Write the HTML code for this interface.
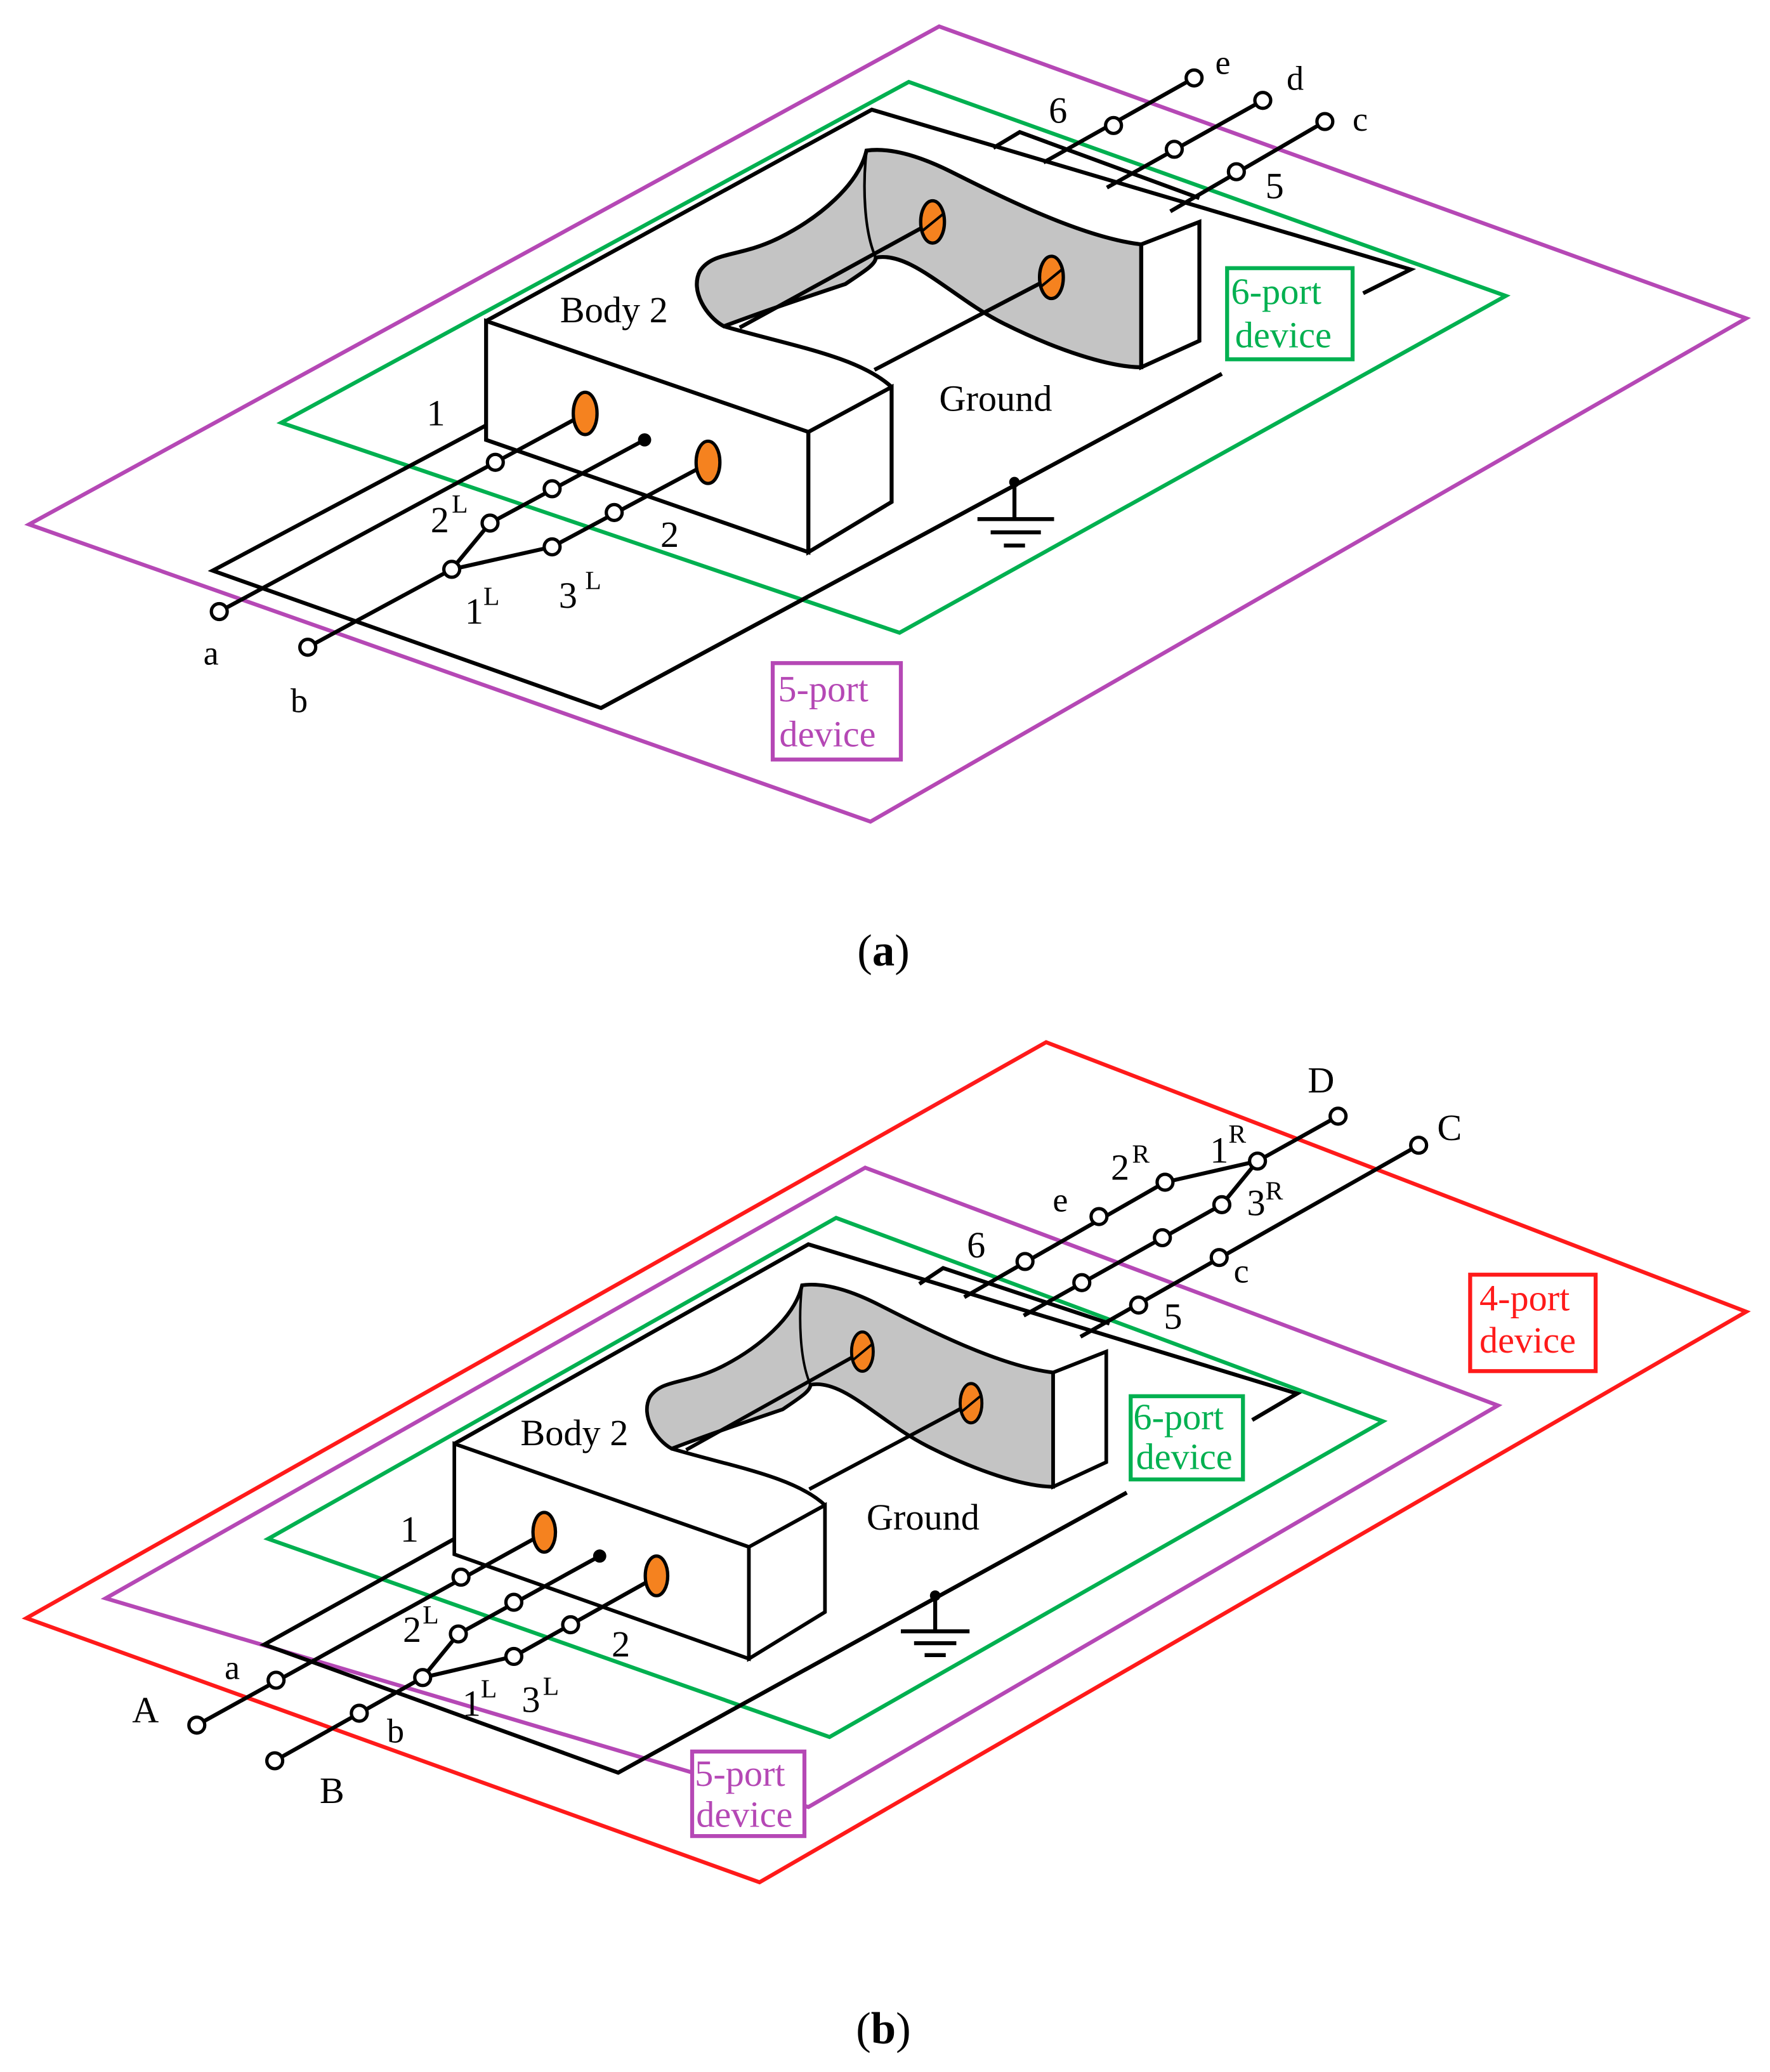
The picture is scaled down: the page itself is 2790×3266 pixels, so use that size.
<!DOCTYPE html>
<html><head><meta charset="utf-8"><style>html,body{margin:0;padding:0;background:#fff}svg{display:block}</style></head>
<body>
<svg xmlns="http://www.w3.org/2000/svg" width="2790" height="3266" viewBox="0 0 1340 1568.6">
<defs>
<g id="body">
  <path d="M368,243 L527,220 L548,247 C600,262 650,270 675,293 L612,327 Z" fill="#fff" stroke="none"/>
  <path d="M548,247 C600,262 650,270 675,293" fill="none" stroke="#000" stroke-width="3"/>
  <path d="M656,114 C650,140 620,165 590,180 C560,195 540,190 530,205 C522,220 535,240 548,247 C580,235 610,225 640,215 C655,205 663,200 663,195 C690,190 720,225 760,245 C800,265 840,278 864,278 L864,185 C820,180 760,150 720,130 C690,115 670,112 656,114 Z" fill="#c4c4c4" stroke="#000" stroke-width="3"/>
  <path d="M656,114 C653,140 654,175 663,195" fill="none" stroke="#000" stroke-width="2"/>
  <path d="M864,185 L908,168 L908,258 L864,278 Z" fill="#fff" stroke="#000" stroke-width="3"/>
  <path d="M368,243 L612,327 L612,418 L368,333 Z" fill="#fff" stroke="#000" stroke-width="3"/>
  <path d="M612,327 L675,293 L675,380 L612,418 Z" fill="#fff" stroke="#000" stroke-width="3"/>
  <line x1="560" y1="248" x2="706" y2="168" stroke="#000" stroke-width="3"/>
  <line x1="662" y1="280" x2="796" y2="210" stroke="#000" stroke-width="3"/>
  <ellipse cx="706" cy="168" rx="9" ry="16" fill="#f5821f" stroke="#000" stroke-width="2.5"/>
  <ellipse cx="796" cy="210" rx="9" ry="16" fill="#f5821f" stroke="#000" stroke-width="2.5"/>
  <line x1="698" y1="175" x2="714" y2="162" stroke="#000" stroke-width="2"/>
  <line x1="788" y1="217" x2="804" y2="204" stroke="#000" stroke-width="2"/>
</g>
</defs>
<g font-family="Liberation Serif, serif" font-size="28">
<!-- Panel a -->
<polygon points="22,397 711,20 1322,241 659,622" fill="none" stroke="#b548b5" stroke-width="3"/>
<polygon points="213,320 688,62 1140,224 681,479" fill="none" stroke="#00b050" stroke-width="3"/>
<g fill="none" stroke="#000" stroke-width="3">
<polyline points="368,322 161,432 455,536 925,283"/>
<polyline points="368,243 660,83 1068,204 1032,222"/>
<polyline points="752,112 772,100 908,150"/>
<line x1="904" y1="59" x2="790" y2="123"/>
<line x1="956" y1="76" x2="838" y2="142"/>
<line x1="1003" y1="92" x2="886" y2="160"/>
</g>
<use href="#body"/>
<g stroke="#000" stroke-width="3" fill="none">
<line x1="166" y1="463" x2="436" y2="317"/>
<line x1="233" y1="490" x2="342" y2="431"/>
<line x1="342" y1="431" x2="371" y2="396"/>
<line x1="342" y1="431" x2="418" y2="414"/>
<line x1="371" y1="396" x2="488" y2="333"/>
<line x1="418" y1="414" x2="530" y2="354"/>
<line x1="455" y1="536" x2="925" y2="283"/>
<line x1="768" y1="365" x2="768" y2="393"/>
<line x1="740" y1="393" x2="798" y2="393"/>
<line x1="750" y1="403" x2="788" y2="403"/>
<line x1="760" y1="413" x2="776" y2="413"/>
</g>
<ellipse cx="443" cy="313" rx="9" ry="16" fill="#f5821f" stroke="#000" stroke-width="2.5"/>
<ellipse cx="536" cy="350" rx="9" ry="16" fill="#f5821f" stroke="#000" stroke-width="2.5"/>
<circle cx="488" cy="333" r="5" fill="#000"/>
<circle cx="768" cy="365" r="4" fill="#000"/>
<g fill="#fff" stroke="#000" stroke-width="2.5">
<circle cx="166" cy="463" r="6"/><circle cx="233" cy="490" r="6"/>
<circle cx="375" cy="350" r="6"/><circle cx="418" cy="370" r="6"/><circle cx="465" cy="388" r="6"/>
<circle cx="371" cy="396" r="6"/><circle cx="342" cy="431" r="6"/><circle cx="418" cy="414" r="6"/>
<circle cx="904" cy="59" r="6"/><circle cx="956" cy="76" r="6"/><circle cx="1003" cy="92" r="6"/>
<circle cx="843" cy="95" r="6"/><circle cx="889" cy="113" r="6"/><circle cx="936" cy="130" r="6"/>
</g>
<text x="794" y="93">6</text><text x="920" y="56" font-size="26">e</text><text x="974" y="68" font-size="26">d</text>
<text x="1024" y="99" font-size="26">c</text><text x="958" y="150">5</text>
<text x="323" y="322">1</text><text x="500" y="414">2</text>
<text x="326" y="403">2</text><text x="342" y="388" font-size="20">L</text>
<text x="352" y="472">1</text><text x="366" y="458" font-size="20">L</text>
<text x="423" y="460">3</text><text x="443" y="446" font-size="20">L</text>
<text x="154" y="503" font-size="26">a</text><text x="220" y="539" font-size="26">b</text>
<text x="424" y="244">Body 2</text><text x="711" y="311">Ground</text>
<rect x="929" y="203" width="95" height="69" fill="#fff" stroke="#00b050" stroke-width="3"/>
<text x="932" y="230" fill="#00b050">6-port</text><text x="935" y="263" fill="#00b050">device</text>
<rect x="585" y="502" width="97" height="73" fill="#fff" stroke="#b548b5" stroke-width="3"/>
<text x="589" y="531" fill="#b548b5">5-port</text><text x="590" y="565" fill="#b548b5">device</text>
<text x="649" y="731" font-size="34">(<tspan font-weight="bold">a</tspan>)</text>

<!-- Panel b -->
<polygon points="20,1225 792,789 1322,993 575,1425" fill="none" stroke="#ff1a1a" stroke-width="3"/>
<polygon points="80,1210 655,884 1134,1064 612,1368" fill="none" stroke="#b548b5" stroke-width="3"/>
<polygon points="203,1165 633,922 1047,1076 628,1315" fill="none" stroke="#00b050" stroke-width="3"/>
<g fill="none" stroke="#000" stroke-width="3">
<polyline points="344,1165 200,1245 468,1342 853,1130"/>
<polyline points="344,1093 612,942 982,1055 948,1075"/>
<polyline points="696,972 714,960 840,1002"/>
<line x1="1013" y1="845" x2="952" y2="879"/>
<line x1="952" y1="879" x2="882" y2="895"/>
<line x1="952" y1="879" x2="925" y2="912"/>
<line x1="882" y1="895" x2="730" y2="982"/>
<line x1="925" y1="912" x2="775" y2="996"/>
<line x1="1074" y1="867" x2="818" y2="1012"/>
</g>
<g transform="matrix(0.914,0,0,0.93,7.6,867)"><use href="#body"/></g>
<g stroke="#000" stroke-width="3" fill="none">
<line x1="149" y1="1306" x2="406" y2="1164"/>
<line x1="208" y1="1333" x2="320" y2="1270"/>
<line x1="320" y1="1270" x2="347" y2="1237"/>
<line x1="320" y1="1270" x2="389" y2="1254"/>
<line x1="347" y1="1237" x2="454" y2="1178"/>
<line x1="389" y1="1254" x2="491" y2="1197"/>
<line x1="468" y1="1342" x2="853" y2="1130"/>
<line x1="708" y1="1208" x2="708" y2="1235"/>
<line x1="682" y1="1235" x2="734" y2="1235"/>
<line x1="692" y1="1244" x2="724" y2="1244"/>
<line x1="700" y1="1253" x2="716" y2="1253"/>
</g>
<ellipse cx="412" cy="1160" rx="8.5" ry="15" fill="#f5821f" stroke="#000" stroke-width="2.5"/>
<ellipse cx="497" cy="1193" rx="8.5" ry="15" fill="#f5821f" stroke="#000" stroke-width="2.5"/>
<circle cx="454" cy="1178" r="5" fill="#000"/>
<circle cx="708" cy="1208" r="4" fill="#000"/>
<g fill="#fff" stroke="#000" stroke-width="2.5">
<circle cx="149" cy="1306" r="6"/><circle cx="208" cy="1333" r="6"/>
<circle cx="209" cy="1272" r="6"/><circle cx="272" cy="1297" r="6"/>
<circle cx="349" cy="1194" r="6"/><circle cx="389" cy="1213" r="6"/><circle cx="432" cy="1230" r="6"/>
<circle cx="347" cy="1237" r="6"/><circle cx="320" cy="1270" r="6"/><circle cx="389" cy="1254" r="6"/>
<circle cx="1013" cy="845" r="6"/><circle cx="1074" cy="867" r="6"/>
<circle cx="952" cy="879" r="6"/><circle cx="882" cy="895" r="6"/><circle cx="925" cy="912" r="6"/>
<circle cx="832" cy="921" r="6"/><circle cx="776" cy="955" r="6"/>
<circle cx="880" cy="937" r="6"/><circle cx="819" cy="971" r="6"/>
<circle cx="923" cy="952" r="6"/><circle cx="862" cy="988" r="6"/>
</g>
<text x="990" y="827">D</text><text x="1088" y="863">C</text>
<text x="916" y="880">1</text><text x="930" y="865" font-size="20">R</text>
<text x="841" y="893">2</text><text x="857" y="880" font-size="20">R</text>
<text x="944" y="920">3</text><text x="958" y="908" font-size="20">R</text>
<text x="797" y="917" font-size="26">e</text><text x="732" y="952">6</text>
<text x="934" y="971" font-size="26">c</text><text x="881" y="1006">5</text>
<text x="303" y="1167">1</text><text x="463" y="1254">2</text>
<text x="305" y="1243">2</text><text x="320" y="1229" font-size="20">L</text>
<text x="350" y="1299">1</text><text x="364" y="1285" font-size="20">L</text>
<text x="395" y="1296">3</text><text x="411" y="1283" font-size="20">L</text>
<text x="170" y="1271" font-size="26">a</text><text x="100" y="1304">A</text>
<text x="293" y="1319" font-size="26">b</text><text x="242" y="1365">B</text>
<text x="394" y="1094">Body 2</text><text x="656" y="1158">Ground</text>
<rect x="856" y="1057" width="85" height="63" fill="#fff" stroke="#00b050" stroke-width="3"/>
<text x="858" y="1082" fill="#00b050">6-port</text><text x="860" y="1112" fill="#00b050">device</text>
<rect x="524" y="1326" width="85" height="64" fill="#fff" stroke="#b548b5" stroke-width="3"/>
<text x="526" y="1352" fill="#b548b5">5-port</text><text x="527" y="1383" fill="#b548b5">device</text>
<rect x="1113" y="965" width="95" height="73" fill="#fff" stroke="#ff1a1a" stroke-width="3"/>
<text x="1120" y="992" fill="#ff1a1a">4-port</text><text x="1120" y="1024" fill="#ff1a1a">device</text>
<text x="648" y="1547" font-size="34">(<tspan font-weight="bold">b</tspan>)</text>
</g>
</svg>
</body></html>
